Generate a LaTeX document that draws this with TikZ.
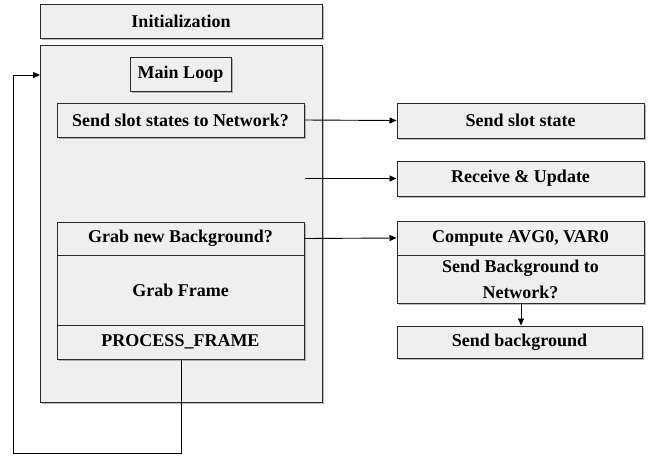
\documentclass[tikz,border=0pt]{standalone}
\usepackage{fontspec}
\setmainfont{Liberation Serif}
\usetikzlibrary{arrows.meta,shadows}
\definecolor{boxfill}{HTML}{EFEFEF}
\definecolor{boxline}{HTML}{2A2A2A}
\tikzset{
  box/.style={draw=boxline, line width=1pt, fill=boxfill, inner sep=0pt,
    font=\fontsize{18}{26}\selectfont\bfseries, text=black, align=center,
    drop shadow={shadow xshift=1.5pt, shadow yshift=-1.8pt, opacity=0.5, fill=black!55}},
  flat/.style={draw=boxline, line width=1pt, fill=boxfill, inner sep=0pt,
    font=\fontsize{18}{26}\selectfont\bfseries, text=black, align=center},
  conn/.style={draw=black, line width=0.9pt},
  arr/.style={conn, -{Triangle[length=7pt,width=6pt]}}
}
\begin{document}
\begin{tikzpicture}[x=1pt,y=1pt]
\useasboundingbox (0,0) rectangle (651,-456);
% left column
\node[box, minimum width=282pt, minimum height=34pt] (init) at (181,-21) {Initialization};
\node[box, minimum width=282pt, minimum height=357pt] (main) at (181,-223.5) {};
\node[box, minimum width=101pt, minimum height=34pt] (mainloop) at (180.5,-74) {Main Loop};
\node[box, minimum width=247pt, minimum height=34pt] (sendq) at (180.5,-120) {Send slot states to Network?};
\node[box, minimum width=247pt, minimum height=137pt] (grpshadow) at (180.5,-290.5) {};
\node[flat, minimum width=247pt, minimum height=33pt] (grabbg) at (180.5,-238.5) {Grab new Background?};
\node[flat, minimum width=247pt, minimum height=70pt] (grabf) at (180.5,-290) {Grab Frame};
\node[flat, minimum width=247pt, minimum height=34pt] (proc) at (180.5,-342) {PROCESS\_FRAME};
% right column
\node[box, minimum width=247pt, minimum height=35pt] (sendss) at (520.5,-120.5) {Send slot state};
\node[box, minimum width=247pt, minimum height=35pt] (recv) at (520.5,-178.5) {Receive \& Update};
\node[box, minimum width=247pt, minimum height=82pt] (rgrp) at (520.5,-262) {};
\node[flat, minimum width=247pt, minimum height=34pt] (avg) at (520.5,-238) {Compute AVG0, VAR0};
\node[flat, minimum width=247pt, minimum height=48pt] (sendbgq) at (520.5,-279) {Send Background to\\Network?};
\node[box, minimum width=245pt, minimum height=32pt] (sendbg) at (519.5,-342) {Send background};
% connectors
\coordinate (recvsrc) at (305,-178.5);
\coordinate (loopa) at (181,-453);
\coordinate (loopb) at (13,-453);
\coordinate (loopc) at (13,-75);
\coordinate (loopd) at (40,-75);
\coordinate (bgx) at (521,0);
\draw[arr] (sendq.east) -- (sendss.west);
\draw[arr] (recvsrc) -- (recv.west);
\draw[arr] (grabbg.east) -- (avg.west);
\draw[arr] (sendbgq.south -| bgx) -- (sendbg.north -| bgx);
\draw[arr] (proc.south -| loopa) -- (loopa) -- (loopb) -- (loopc) -- (loopd);
\end{tikzpicture}
\end{document}
